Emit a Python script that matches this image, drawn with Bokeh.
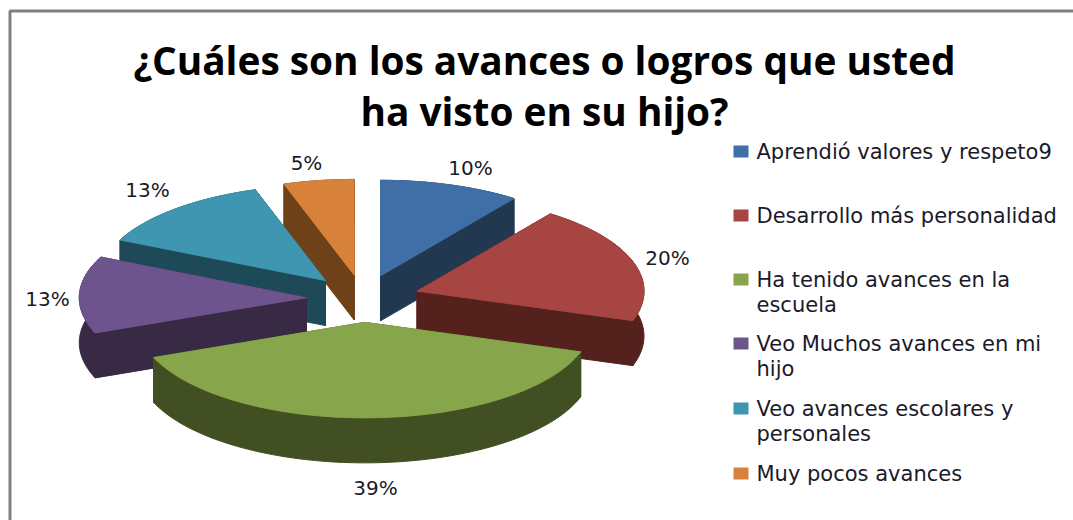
import math
from bokeh.plotting import figure
from bokeh.models import Range1d
from bokeh.core.properties import value
from bokeh.embed import file_html
from bokeh.resources import INLINE

title_lines = ["¿Cuáles son los avances o logros que usted", "ha visto en su hijo?"]
categories = ["Aprendió valores y respeto9", "Desarrollo más personalidad",
              "Ha tenido avances en la\nescuela", "Veo Muchos avances en mi\nhijo",
              "Veo avances escolares y\npersonales", "Muy pocos avances"]
values = [10, 20, 39, 13, 13, 5]
top_colors = ["#3F6FA6", "#A64541", "#87A54A", "#6E548D", "#3F96B0", "#D7813A"]
side_colors = ["#223851", "#54211D", "#414F22", "#382945", "#1E4A57", "#6E4119"]

CX, CY, RX, RY, DEPTH, EXPLODE = 362.5, 298, 227, 95.5, 45, 0.25
label_pos = [(470, 167), (667, 257), (375, 487), (47, 298), (147, 189), (306, 162)]
legend_y = [151, 215, 279, 343, 408, 473]
LINE_H = 25.5

p = figure(width=1073, height=520, x_range=Range1d(0, 1073), y_range=Range1d(520, 0),
           output_backend="svg", toolbar_location=None, min_border=0,
           x_axis_type=None, y_axis_type=None, outline_line_color=None,
           background_fill_color="white", border_fill_color="white")
p.grid.visible = False

p.line([9.5, 9.5, 1073], [520, 10.5, 10.5], line_color="#808080", line_width=3)

total = sum(values)
starts = [sum(values[:i]) / total * 2 * math.pi for i in range(len(values))]
ends = [sum(values[:i + 1]) / total * 2 * math.pi for i in range(len(values))]


def slice_outline(i):
    a0, a1 = starts[i], ends[i]
    mid = (a0 + a1) / 2
    ax = CX + EXPLODE * RX * math.sin(mid)
    ay = CY - EXPLODE * RY * math.cos(mid)
    n = max(2, int((a1 - a0) * 40))
    xs, ys = [], []
    for k in range(n + 1):
        t = a0 + (a1 - a0) * k / n
        xs.append(ax + RX * math.sin(t))
        ys.append(ay - RY * math.cos(t))
    return ax, ay, xs, ys


for i in [5, 0, 4, 1, 3, 2]:
    ax, ay, xs, ys = slice_outline(i)
    c = side_colors[i]
    for ex, ey in ((xs[0], ys[0]), (xs[-1], ys[-1])):
        p.patch([ax, ex, ex, ax], [ay, ey, ey + DEPTH, ay + DEPTH], fill_color=c, line_color=c, line_width=1)
    p.patch(xs + xs[::-1], ys + [y + DEPTH for y in ys[::-1]], fill_color=c, line_color=c, line_width=1)
    p.patch([ax] + xs, [ay] + ys, fill_color=top_colors[i], line_color=top_colors[i], line_width=1)

p.text([544, 544], [59, 110], text=title_lines, text_font=value("Open Sans"),
       text_font_style="bold", text_font_size="38.8px", text_align="center",
       text_baseline="middle", text_color="#000000")

p.text([q[0] for q in label_pos], [q[1] for q in label_pos],
       text=[f"{v}%" for v in values], text_font=value("DejaVu Sans"),
       text_font_size="20px", text_align="center", text_baseline="middle",
       text_color="#1a1a2a")

for i, cat in enumerate(categories):
    p.rect([740.5], [legend_y[i]], width=15, height=12, fill_color=top_colors[i], line_color=None)
    lines = cat.split("\n")
    p.text([756] * len(lines), [legend_y[i] + k * LINE_H for k in range(len(lines))],
           text=lines, text_font=value("DejaVu Sans"), text_font_size="21px",
           text_align="left", text_baseline="middle", text_color="#1a1a2a")

open("out.html", "w").write(file_html(p, INLINE))
